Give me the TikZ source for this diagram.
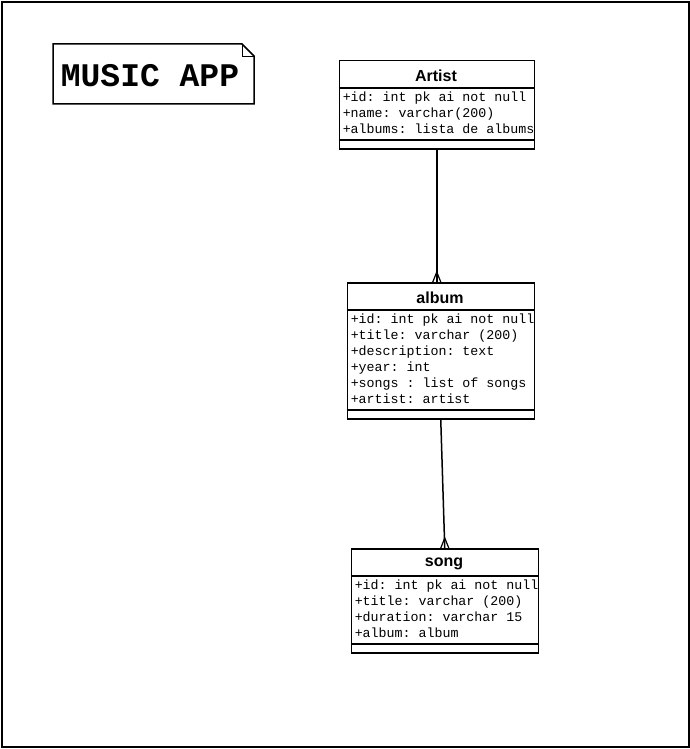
\documentclass[tikz,border=0pt]{standalone}
\usepackage{fontspec}
\setmainfont{Liberation Sans}
\newfontfamily\monof{Liberation Mono}
\usetikzlibrary{calc}
\frenchspacing
\begin{document}
\begin{tikzpicture}[x=1pt,y=-1pt,line width=1.5pt,
  classbox/.style={draw,fill=white,anchor=north west,inner sep=0pt,minimum width=#1},
  head/.style={font=\fontsize{16}{18}\selectfont\bfseries,inner sep=0pt},
  attrs/.style={font=\monof\fontsize{13.3}{16}\selectfont,align=left,anchor=north west,inner sep=0pt},
  crow/.pic={\draw[line width=1.2pt] (-4,0) -- (0,-10) -- (4,0); \draw[line width=1.2pt] (0,0) -- (0,-10);}]
\useasboundingbox (0,0) rectangle (690,749);
\draw[line width=1.5pt] (2,2) rectangle (689,747);
% note
\draw[fill=white] (53,44) -- (242,44) -- (254,56) -- (254,104) -- (53,104) -- cycle;
\draw[line width=0.8pt] (242,44) -- (242,56) -- (254,56);
\node[font=\monof\fontsize{33}{36}\selectfont\bfseries,inner sep=0pt] (title) at (150,76) {MUSIC APP};
% Artist
\node[classbox=195pt,minimum height=88pt] (artist) at (338.5,60) {};
\node[head] (artistname) at (436,75.5) {Artist};
\draw (338.5,88) -- (533.5,88);
\draw (338.5,140) -- (533.5,140);
\node[attrs] (artistattrs) at (342,91) {+id: int pk ai not null\\+name: varchar(200)\\+albums: lista de albums};
% album
\node[classbox=187pt,minimum height=136pt] (album) at (346.5,282) {};
\node[head] (albumname) at (440,297.5) {album};
\draw (346.5,310) -- (533.5,310);
\draw (346.5,410) -- (533.5,410);
\node[attrs] (albumattrs) at (350,313) {+id: int pk ai not null\\+title: varchar (200)\\+description: text\\+year: int\\+songs : list of songs\\+artist: artist};
% song
\node[classbox=187pt,minimum height=104pt] (song) at (350.5,548) {};
\node[head] (songname) at (444,563.5) {song};
\draw (350.5,576) -- (537.5,576);
\draw (350.5,644) -- (537.5,644);
\node[attrs] (songattrs) at (354,579) {+id: int pk ai not null\\+title: varchar (200)\\+duration: varchar 15\\+album: album};
% connectors
\coordinate (e1) at (artist.south |- album.north);
\draw (artist.south) -- (e1);
\pic at (e1) {crow};
\draw (album.south) -- (song.north);
\pic at (song.north) {crow};
\end{tikzpicture}
\end{document}
